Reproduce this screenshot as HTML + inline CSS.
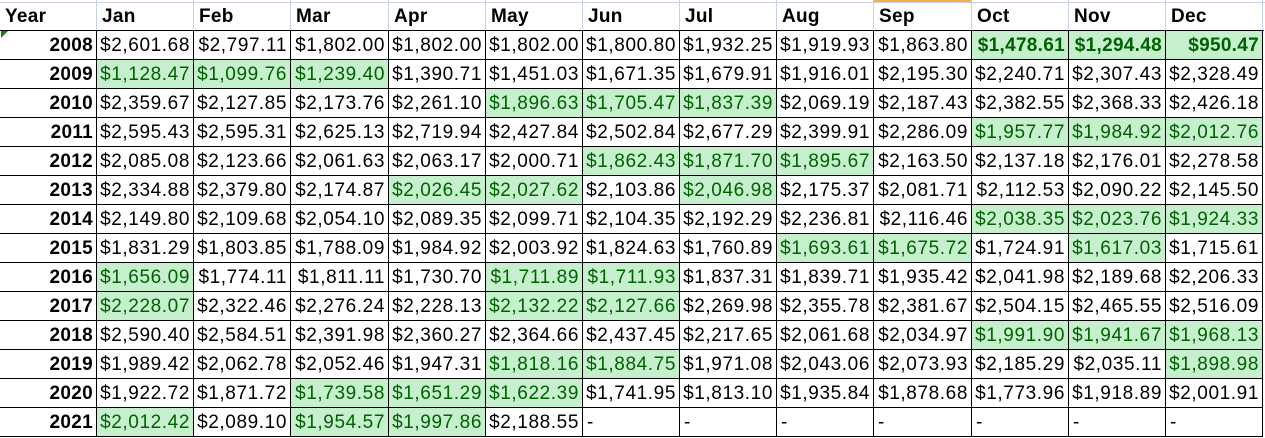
<!DOCTYPE html>
<html><head><meta charset="utf-8">
<style>
body{margin:0;background:#fff;width:1265px;height:438px;overflow:hidden;position:relative;font-family:"Liberation Sans",Arial,sans-serif;}
.c{position:absolute;box-sizing:border-box;font-size:19px;line-height:29px;white-space:nowrap;overflow:hidden;color:#000;letter-spacing:0.6px;}
.h{font-weight:bold;letter-spacing:0.3px;padding-left:5px;line-height:33px;}
.d{border-right:1px solid #000;border-bottom:1px solid #000;text-align:right;padding-right:3px;}
.g{background:#c6efce;color:#006100;}
.b{font-weight:bold;letter-spacing:0.3px;}
.y{font-weight:bold;letter-spacing:0.3px;}
.l{text-align:left;padding-left:4px;}
</style></head><body>
<div id="tbl"></div>
<script>
const months=["Jan","Feb","Mar","Apr","May","Jun","Jul","Aug","Sep","Oct","Nov","Dec"];
const years=[2008,2009,2010,2011,2012,2013,2014,2015,2016,2017,2018,2019,2020,2021];
const values=[
["$2,601.68","$2,797.11","$1,802.00","$1,802.00","$1,802.00","$1,800.80","$1,932.25","$1,919.93","$1,863.80","$1,478.61","$1,294.48","$950.47"],
["$1,128.47","$1,099.76","$1,239.40","$1,390.71","$1,451.03","$1,671.35","$1,679.91","$1,916.01","$2,195.30","$2,240.71","$2,307.43","$2,328.49"],
["$2,359.67","$2,127.85","$2,173.76","$2,261.10","$1,896.63","$1,705.47","$1,837.39","$2,069.19","$2,187.43","$2,382.55","$2,368.33","$2,426.18"],
["$2,595.43","$2,595.31","$2,625.13","$2,719.94","$2,427.84","$2,502.84","$2,677.29","$2,399.91","$2,286.09","$1,957.77","$1,984.92","$2,012.76"],
["$2,085.08","$2,123.66","$2,061.63","$2,063.17","$2,000.71","$1,862.43","$1,871.70","$1,895.67","$2,163.50","$2,137.18","$2,176.01","$2,278.58"],
["$2,334.88","$2,379.80","$2,174.87","$2,026.45","$2,027.62","$2,103.86","$2,046.98","$2,175.37","$2,081.71","$2,112.53","$2,090.22","$2,145.50"],
["$2,149.80","$2,109.68","$2,054.10","$2,089.35","$2,099.71","$2,104.35","$2,192.29","$2,236.81","$2,116.46","$2,038.35","$2,023.76","$1,924.33"],
["$1,831.29","$1,803.85","$1,788.09","$1,984.92","$2,003.92","$1,824.63","$1,760.89","$1,693.61","$1,675.72","$1,724.91","$1,617.03","$1,715.61"],
["$1,656.09","$1,774.11","$1,811.11","$1,730.70","$1,711.89","$1,711.93","$1,837.31","$1,839.71","$1,935.42","$2,041.98","$2,189.68","$2,206.33"],
["$2,228.07","$2,322.46","$2,276.24","$2,228.13","$2,132.22","$2,127.66","$2,269.98","$2,355.78","$2,381.67","$2,504.15","$2,465.55","$2,516.09"],
["$2,590.40","$2,584.51","$2,391.98","$2,360.27","$2,364.66","$2,437.45","$2,217.65","$2,061.68","$2,034.97","$1,991.90","$1,941.67","$1,968.13"],
["$1,989.42","$2,062.78","$2,052.46","$1,947.31","$1,818.16","$1,884.75","$1,971.08","$2,043.06","$2,073.93","$2,185.29","$2,035.11","$1,898.98"],
["$1,922.72","$1,871.72","$1,739.58","$1,651.29","$1,622.39","$1,741.95","$1,813.10","$1,935.84","$1,878.68","$1,773.96","$1,918.89","$2,001.91"],
["$2,012.42","$2,089.10","$1,954.57","$1,997.86","$2,188.55","-","-","-","-","-","-","-"]];
const greens=[[9,10,11],[0,1,2],[4,5,6],[9,10,11],[5,6,7],[3,4,6],[9,10,11],[7,8,10],[0,4,5],[0,4,5],[9,10,11],[4,5,11],[2,3,4],[0,2,3]];
const tbl=document.getElementById('tbl');
const X0=97,CW=97.17,H0=31,RH=29;
function cell(x,y,w,h,cls,txt){const d=document.createElement('div');d.className='c '+cls;d.style.left=x+'px';d.style.top=y+'px';d.style.width=w+'px';d.style.height=h+'px';d.textContent=txt;tbl.appendChild(d);return d;}
for(let i=0;i<=12;i++){const v=document.createElement('div');v.style.cssText='position:absolute;top:0;height:31px;width:1px;background:#c6d2e4;left:'+Math.round(X0+i*CW-1)+'px';tbl.appendChild(v);}
const hdrTop=document.createElement('div');hdrTop.style.cssText='position:absolute;left:0;top:2px;width:1265px;height:1px;background:#c6d2e4';tbl.appendChild(hdrTop);
const orLine=document.createElement('div');orLine.style.cssText='position:absolute;left:874px;top:0;width:97px;height:2px;background:#f5b24c';tbl.appendChild(orLine);
let yh=cell(0,0,97,H0,'h','Year');


months.forEach((m,i)=>{const el=cell(Math.round(X0+i*CW),0,Math.round(CW),H0,'h',m);

});
const hb=document.createElement('div');hb.style.cssText='position:absolute;left:0;top:30px;width:1264px;height:1px;background:#000';tbl.appendChild(hb);
years.forEach((yr,r)=>{
  const y=H0+r*RH;
  const yc=cell(0,y,X0,RH,'d y',String(yr));
  
  
  values[r].forEach((v,i)=>{
    let cls='d';
    if(greens[r].includes(i))cls+=' g';
    if(r===0&&i>=9)cls+=' b';
    if(v==='-')cls+=' l';
    const x=Math.round(X0+i*CW),x2=Math.round(X0+(i+1)*CW);
    const c=cell(x,y,x2-x,RH,cls,v);
    
    
  });
});
const tri=document.createElement('div');tri.style.cssText='position:absolute;left:1px;top:31px;width:0;height:0;border-top:7px solid #1e7c1e;border-right:7px solid transparent';tbl.appendChild(tri);
</script>
</body></html>
